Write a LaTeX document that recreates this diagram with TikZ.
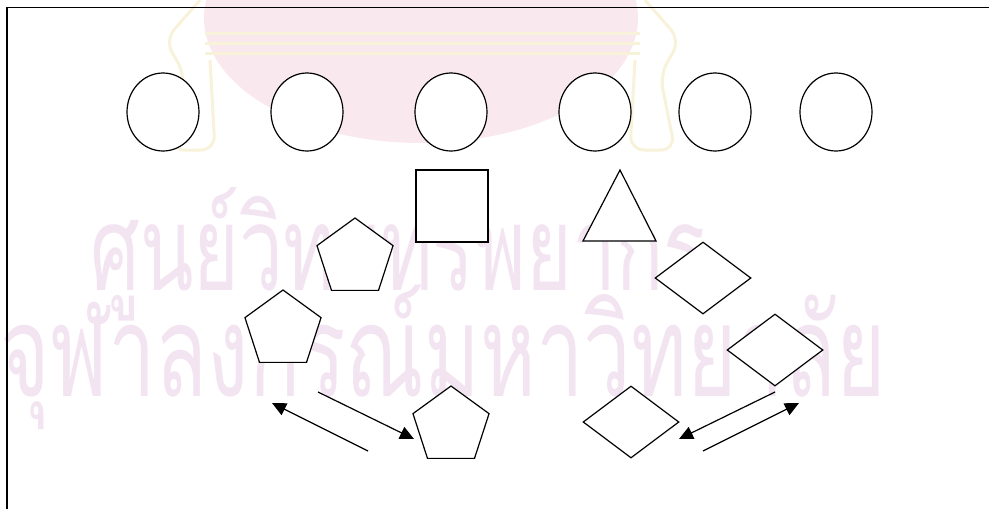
\documentclass[tikz,border=0pt]{standalone}
\usepackage{fontspec}
\usepackage{graphicx}
\usepackage{tikz}
\usetikzlibrary{calc,positioning,arrows,shapes,shapes.geometric}
\usetikzlibrary{arrows.meta}
\newfontfamily\thaifont[Script=Thai]{Loma}
\definecolor{markpink}{RGB}{243,228,241}
\definecolor{logopink}{RGB}{250,232,239}
\definecolor{logogold}{RGB}{248,242,218}
\tikzset{ov/.style={draw,fill=white,ellipse,minimum width=72pt,minimum height=78pt,inner
sep=0pt},pv/.style={draw,fill=white,regular polygon,regular polygon sides=5,minimum
size=80pt,inner sep=0pt},dv/.style={draw,fill=white,diamond,aspect=1.33,minimum
width=96pt,minimum height=72pt,inner sep=0pt}}

\begin{document}
\begin{tikzpicture}[x=1pt,y=-1pt,line width=1.2pt, arr/.style = {-{Triangle[length=14pt,width=13pt]}}]
		\useasboundingbox (0,0) rectangle (989,509);

		% faint emblem in the background
		\fill[logopink] (421,18) ellipse [x radius=217, y radius=125];
		\draw[logogold,line width=3pt] (205,33) -- (640,33);
		\draw[logogold,line width=3pt] (205,43) -- (640,43);
		\draw[logogold,line width=3pt] (205,53) -- (640,53);
		\draw[logogold,line width=3pt,rounded corners=14pt] (200,0) -- (165,40) -- (185,75) -- (170,150) -- (215,150) -- (210,60);
		\draw[logogold,line width=3pt,rounded corners=14pt] (645,0) -- (680,40) -- (660,75) -- (675,150) -- (630,150) -- (635,60);

		% watermark text
		\node[anchor=base west,inner sep=0pt,text=markpink] (W1) at (90,290)
			{\scalebox{1}[1.5]{\resizebox{615pt}{!}{\thaifont ศูนย์วิทยทรัพยากร}}};
		\node[anchor=base west,inner sep=0pt,text=markpink] (W2) at (0,396)
			{\scalebox{1}[1.5]{\resizebox{885pt}{!}{\thaifont จุฬาลงกรณ์มหาวิทยาลัย}}};

		% frame
		\draw[line width=1.5pt] (989,7.5) -- (7,7.5) -- (7,509);

		\node[ov] (C1) at (163,112) {};
		\node[ov] (C2) at (307,112) {};
		\node[ov] (C3) at (451,112) {};
		\node[ov] (C4) at (595,112) {};
		\node[ov] (C5) at (715,112) {};
		\node[ov] (C6) at (836,112) {};

		\node[draw,fill=white,rectangle,minimum size=72pt,inner sep=0pt] (SQ) at (452,206) {};
		\filldraw[fill=white] (620,170) coordinate (T) -- (656,241) -- (583,241) -- cycle;

		\node[pv] (P1) at (355,258) {};
		\node[pv] (P2) at (283,330) {};
		\node[pv] (P3) at (451,426) {};

		\node[dv] (D1) at (703,278) {};
		\node[dv] (D2) at (775,350) {};
		\node[dv] (D3) at (631,422) {};

		\coordinate (a1) at (368,451);
		\coordinate (a2) at (272,403);
		\coordinate (b1) at (318,392);
		\coordinate (b2) at (414,439);
		\coordinate (c1) at (775,392);
		\coordinate (c2) at (679,439);
		\coordinate (d1) at (703,451);
		\coordinate (d2) at (799,403);

		\draw[arr] (a1) -- (a2);
		\draw[arr] (b1) -- (b2);
		\draw[arr] (c1) -- (c2);
		\draw[arr] (d1) -- (d2);
	\end{tikzpicture}
\end{document}
